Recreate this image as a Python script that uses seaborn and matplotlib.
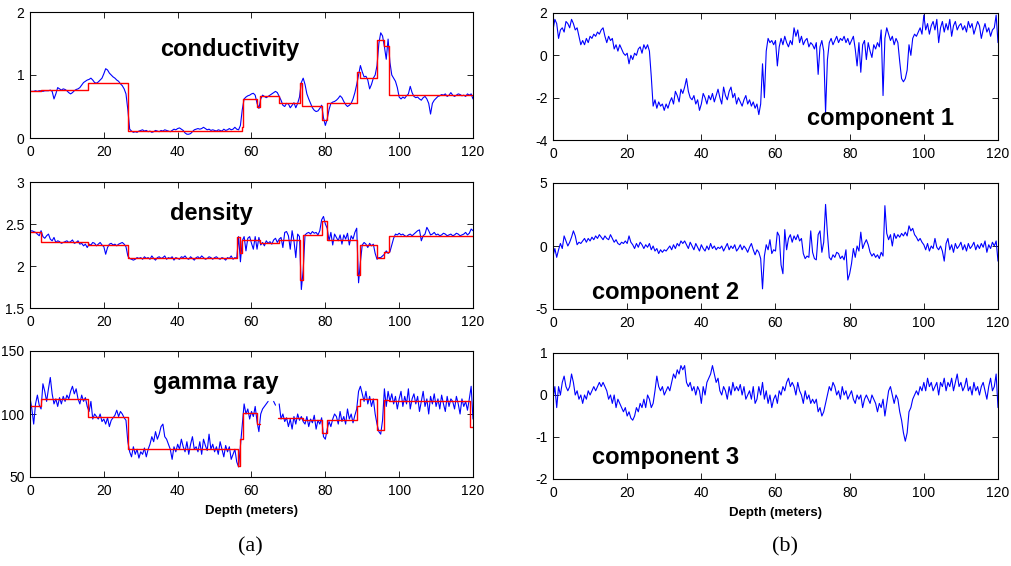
import numpy as np
import pandas as pd
import seaborn as sns
import matplotlib.pyplot as plt

depth = np.arange(0, 120.5, 0.5)

conductivity = [
    0.74, 0.74, 0.74, 0.75, 0.74, 0.75, 0.75, 0.74, 0.75, 0.75,
    0.75, 0.76, 0.74, 0.62, 0.70, 0.80, 0.78, 0.76, 0.78, 0.77,
    0.75, 0.72, 0.70, 0.72, 0.75, 0.77, 0.78, 0.80, 0.84, 0.88,
    0.90, 0.92, 0.93, 0.95, 0.92, 0.88, 0.87, 0.89, 0.92, 0.95,
    1.02, 1.10, 1.08, 1.03, 1.00, 0.97, 0.95, 0.92, 0.90, 0.86,
    0.83, 0.78, 0.70, 0.45, 0.14, 0.11, 0.09, 0.10, 0.09, 0.11,
    0.12, 0.13, 0.11, 0.12, 0.10, 0.11, 0.09, 0.10, 0.12, 0.11,
    0.10, 0.12, 0.11, 0.13, 0.12, 0.11, 0.10, 0.12, 0.14, 0.13,
    0.15, 0.16, 0.14, 0.12, 0.08, 0.06, 0.06, 0.07, 0.10, 0.13,
    0.14, 0.15, 0.14, 0.15, 0.17, 0.15, 0.13, 0.14, 0.12, 0.13,
    0.12, 0.11, 0.13, 0.12, 0.11, 0.14, 0.12, 0.13, 0.15, 0.13,
    0.14, 0.17, 0.14, 0.13, 0.20, 0.45, 0.62, 0.65, 0.67, 0.68,
    0.70, 0.71, 0.68, 0.55, 0.47, 0.62, 0.68, 0.66, 0.64, 0.66,
    0.68, 0.70, 0.72, 0.74, 0.72, 0.66, 0.60, 0.52, 0.50, 0.55,
    0.54, 0.48, 0.52, 0.56, 0.48, 0.55, 0.65, 0.88, 0.95, 0.85,
    0.70, 0.62, 0.55, 0.48, 0.44, 0.42, 0.43, 0.47, 0.52, 0.32,
    0.20, 0.30, 0.45, 0.55, 0.57, 0.58, 0.60, 0.63, 0.67, 0.64,
    0.58, 0.53, 0.50, 0.52, 0.55, 0.62, 0.72, 0.85, 1.00, 1.15,
    1.05, 0.97, 0.98, 0.92, 0.78, 0.85, 0.95, 1.00, 1.15, 1.50,
    1.67, 1.62, 1.45, 1.25, 1.57, 1.20, 1.00, 0.95, 0.90, 0.80,
    0.65, 0.62, 0.65, 0.63, 0.67, 0.70, 0.82, 0.72, 0.66, 0.64,
    0.65, 0.62, 0.60, 0.64, 0.66, 0.62, 0.55, 0.38, 0.55, 0.60,
    0.63, 0.66, 0.67, 0.69, 0.68, 0.70, 0.66, 0.68, 0.72, 0.68,
    0.66, 0.68, 0.70, 0.69, 0.67, 0.68, 0.66, 0.70, 0.68, 0.70,
    0.62,
]
cond_edges = [0, 3, 15.8, 26.6, 57.3, 57.8, 61.4, 62.3, 67.5, 73.1, 73.7,
              79.2, 80.5, 88.7, 89.4, 93.9, 95.8, 97.3, 120]
cond_levels = [0.74, 0.76, 0.88, 0.11, 0.18, 0.62, 0.50, 0.67, 0.55, 0.87,
               0.51, 0.29, 0.55, 1.04, 0.96, 1.56, 1.46, 0.68]

density = [
    2.41, 2.42, 2.41, 2.40, 2.38, 2.36, 2.42, 2.35, 2.33, 2.36,
    2.38, 2.32, 2.30, 2.34, 2.28, 2.30, 2.29, 2.27, 2.28, 2.29,
    2.30, 2.28, 2.29, 2.31, 2.27, 2.28, 2.30, 2.26, 2.27, 2.24,
    2.26, 2.22, 2.26, 2.25, 2.28, 2.27, 2.24, 2.26, 2.28, 2.25,
    2.23, 2.14, 2.22, 2.26, 2.27, 2.25, 2.26, 2.24, 2.26, 2.27,
    2.28, 2.26, 2.23, 2.12, 2.09, 2.08, 2.07, 2.08, 2.10, 2.09,
    2.10, 2.08, 2.11, 2.09, 2.10, 2.08, 2.12, 2.09, 2.07, 2.10,
    2.11, 2.09, 2.10, 2.12, 2.08, 2.10, 2.09, 2.11, 2.07, 2.10,
    2.09, 2.08, 2.11, 2.10, 2.12, 2.09, 2.08, 2.11, 2.09, 2.07,
    2.10, 2.11, 2.09, 2.12, 2.10, 2.08, 2.09, 2.11, 2.10, 2.08,
    2.10, 2.11, 2.09, 2.08, 2.10, 2.09, 2.07, 2.10, 2.09, 2.12,
    2.08, 2.10, 2.09, 2.35, 2.05, 2.30, 2.35, 2.18, 2.33, 2.35,
    2.27, 2.20, 2.35, 2.20, 2.34, 2.25, 2.28, 2.24, 2.30, 2.27,
    2.29, 2.26, 2.31, 2.33, 2.28, 2.32, 2.34, 2.22, 2.40, 2.41,
    2.36, 2.20, 2.42, 2.30, 2.10, 2.38, 2.35, 1.72, 1.95, 2.37,
    2.39, 2.40, 2.38, 2.41, 2.39, 2.40, 2.37, 2.42, 2.55, 2.59,
    2.50, 2.45, 2.30, 2.40, 2.25, 2.38, 2.34, 2.30, 2.37, 2.26,
    2.37, 2.32, 2.39, 2.25, 2.36, 2.32, 2.40, 2.45, 1.80, 2.05,
    2.25, 2.28, 2.26, 2.22, 2.27, 2.24, 2.26, 2.15, 2.08, 2.10,
    2.10, 2.12, 2.14, 2.18, 2.15, 2.17, 2.25, 2.33, 2.38, 2.37,
    2.39, 2.37, 2.38, 2.36, 2.35, 2.37, 2.38, 2.36, 2.38, 2.40,
    2.42, 2.43, 2.30, 2.36, 2.38, 2.46, 2.42, 2.37, 2.38, 2.40,
    2.37, 2.38, 2.36, 2.37, 2.39, 2.38, 2.36, 2.37, 2.38, 2.36,
    2.37, 2.39, 2.38, 2.36, 2.37, 2.38, 2.40, 2.37, 2.39, 2.44,
    2.42,
]
dens_edges = [0, 2.9, 15.8, 26.6, 56.1, 56.8, 57.5, 62.3, 67.5, 73.1, 73.9,
              79.2, 80.5, 88.7, 89.5, 94.0, 96.0, 97.3, 120]
dens_levels = [2.40, 2.29, 2.25, 2.10, 2.34, 2.15, 2.31, 2.27, 2.31, 1.83,
               2.37, 2.53, 2.31, 1.89, 2.25, 2.10, 2.17, 2.36]

nan = np.nan
gamma_ray = [
    113, 104, 92, 108, 115, 107, 104, 124, 118, 110,
    120, 129, 116, 108, 112, 106, 113, 108, 114, 110,
    115, 112, 118, 122, 116, 120, 112, 108, 115, 110,
    113, 106, 102, 110, 96, 100, 98, 96, 100, 94,
    96, 92, 97, 90, 95, 97, 99, 103, 98, 102,
    100, 97, 95, 78, 70, 66, 74, 68, 72, 65,
    70, 68, 73, 66, 72, 76, 82, 78, 86, 80,
    84, 90, 92, 82, 80, 76, 72, 64, 74, 70,
    76, 72, 80, 74, 70, 78, 68, 76, 82, 72,
    74, 70, 78, 68, 80, 75, 71, 84, 72, 76,
    70, 74, 68, 78, 72, 66, 75, 70, 74, 64,
    68, 72, 62, 58, 75, 92, 108, 100, 104, 96,
    102, 98, 106, 94, 86, 100, 104, 106, 108, 110,
    nan, nan, 110, 107, nan, 108, 96, 100, 94, 97,
    90, 96, 88, 98, 92, 100, 95, 98, 94, 92,
    98, 90, 96, 93, 99, 88, 95, 92, 97, 82,
    80, 88, 94, 90, 96, 100, 98, 92, 102, 94,
    98, 92, 104, 96, 100, 93, 99, 104, 118, 122,
    116, 110, 118, 108, 114, 106, 112, 100, 92, 86,
    84, 95, 120, 106, 118, 110, 116, 108, 114, 104,
    112, 118, 106, 114, 108, 120, 104, 112, 116, 108,
    114, 102, 110, 118, 106, 112, 100, 114, 108, 116,
    106, 112, 104, 115, 108, 102, 114, 106, 112, 110,
    104, 114, 108, 100, 112, 106, 110, 103, 112, 122,
    96,
]
gamma_edges = [0, 2.9, 15.8, 26.6, 56.4, 57.0, 57.7, 61.4, 62.3, 67.3, 74.0,
               79.2, 80.5, 88.7, 89.4, 93.9, 95.8, 97.3, 119.1, 120]
gamma_levels = [106, 112, 98, 72.5, 59, 80, 101, 92, nan, 97, 95.5, 85, 95,
                106.5, 112, 87, 111, 110, 90]

component_1 = [
    1.2, 1.7, 1.5, 0.8, 1.2, 1.3, 1.1, 1.6, 1.5, 1.3,
    1.7, 1.5, 1.2, 1.3, 0.9, 0.5, 0.7, 0.5, 0.8, 0.6,
    0.9, 0.8, 1.0, 0.9, 1.1, 1.0, 1.2, 1.3, 0.9, 0.6,
    0.9, 0.7, 0.8, 0.3, 0.5, 0.2, 0.5, 0.3, 0.1, 0.0,
    0.1, -0.4, 0.0, -0.2, 0.1, 0.0, 0.3, 0.4, 0.1, 0.5,
    0.3, 0.5, 0.2, -1.0, -2.4, -2.1, -2.5, -2.2, -2.4, -2.3,
    -2.6, -2.3, -2.5, -2.2, -2.0, -2.3, -1.7, -1.9, -2.2, -1.6,
    -1.8, -1.5, -1.1, -1.7, -2.0, -2.1, -1.9, -2.3, -2.1, -2.6,
    -2.3, -1.8, -2.0, -2.3, -1.9, -2.1, -1.8, -2.2, -1.9, -1.6,
    -2.0, -2.3, -1.5, -1.9, -2.1, -1.7, -1.5, -2.0, -1.8, -2.3,
    -2.0, -2.2, -2.4, -2.1, -1.9, -2.3, -2.1, -2.4, -2.2, -2.5,
    -2.3, -2.8, -2.3, -0.4, -2.0, 0.2, 0.8, 0.6, 0.7, 0.5,
    0.7, -0.5, 0.4, 0.8, 0.5, 0.9, 0.6, 0.4, 0.7, 0.5,
    1.3, 0.9, 1.2, 0.6, 0.9, 0.5, 0.7, 0.8, 0.4, 0.6,
    0.5, 0.3, 0.6, -0.9, 0.4, 0.7, 0.2, -2.7, -0.2, 0.6,
    0.8, 0.5, 0.7, 0.9, 0.6, 0.8, 0.7, 0.9, 0.6, 0.8,
    0.5, 0.7, 0.9, 0.3, -0.5, 0.6, -0.8, 0.5, 0.7, -0.2,
    0.6, 0.2, -0.1, 0.5, 0.3, 0.6, 0.4, 1.2, -1.9, 0.8,
    1.3, 1.0, 0.7, 0.9, 0.5, 0.8, 0.6, -0.3, -1.1, -1.25,
    -1.1, -0.7, 0.5, 0.0, 0.8, 1.0, 0.9, 1.1, 1.3, 1.0,
    1.9, 1.2, 1.5, 1.0, 1.4, 1.6, 1.2, 1.7, 0.6, 1.3,
    1.6, 1.1, 1.5, 1.2, 1.7, 0.9, 1.4, 1.6, 1.2, 1.4,
    1.5, 1.2, 1.4, 1.1, 1.6, 1.3, 1.5, 1.0, 1.3, 1.6,
    1.4, 0.8, 1.2, 1.5, 1.1, 1.3, 0.9, 1.2, 1.3, 1.9,
    0.6,
]

component_2 = [
    -0.8, -0.2, -0.9, -0.3, 0.2, -0.2, 0.8, 0.4, 0.0, 0.3,
    0.7, 1.2, 0.8, 0.1, 0.3, 0.2, 0.4, 0.6, 0.3, 0.6,
    0.4, 0.7, 0.5, 0.8, 0.6, 0.9, 0.7, 0.5, 0.8, 0.6,
    0.5, 0.9, 0.6, 0.3, 0.5, 0.2, 0.1, 0.3, 0.2, 0.4,
    0.2, 0.8, 0.3, 0.1, -0.2, 0.2, -0.1, 0.3, 0.1, -0.2,
    0.1, -0.1, 0.2, -0.3, 0.0, -0.4, -0.2, -0.6, -0.3, -0.5,
    -0.3, -0.4, -0.2, 0.0, -0.3, 0.1, -0.2, 0.2, 0.0, 0.4,
    0.2, 0.4, 0.1, -0.2, 0.3, 0.0, -0.3, 0.2, -0.1, -0.4,
    0.1, -0.2, -0.4, 0.0, -0.3, 0.2, -0.2, 0.0, -0.3, -0.1,
    -0.2, 0.0, -0.4, -0.1, 0.2, -0.3, 0.0, -0.2, 0.1, -0.4,
    -0.2, 0.1, -0.3, 0.0, -0.2, -0.5, -0.1, 0.2, -0.3, -0.7,
    -0.3, -0.5, -1.0, -3.4, -0.8, 0.1, -0.3, 0.5, -0.6, -0.3,
    -0.4, 1.1, 0.8, -1.5, -2.2, 1.3, -0.3, 0.6, 0.9, 0.3,
    0.8, 0.5, 0.9, 0.4, 0.6, -0.6, -1.0, -0.8, -0.9, 1.2,
    -0.5, -1.0, -1.1, 0.9, 1.2, -0.5, 0.3, 3.3, 1.0, -0.9,
    -1.1, -0.7, -0.9, -0.5, -0.6, -1.0, -0.8, -1.1, -0.3, -2.7,
    -2.2, -1.4, -0.2, -0.9, 0.0, -0.4, 1.1, -0.2, 0.2, 0.5,
    0.1, -0.5, -0.8, -0.6, -0.9, -0.7, -1.0, -0.5, -0.8, 3.2,
    1.0, 0.5, 0.9, 0.0, 1.0, 0.6, 0.9, 0.7, 1.0, 0.8,
    1.1, 0.8, 1.6, 1.2, 1.4, 0.9, 0.7, 0.4, 0.6, 0.3,
    0.1, -0.3, 0.2, -0.4, 0.0, -0.2, 0.6, -0.1, -0.3, 0.0,
    -0.4, -1.2, 0.2, 0.6, -0.3, 0.1, -0.5, 0.2, -0.2, 0.0,
    0.3, -0.3, 0.1, -0.4, 0.2, -0.2, 0.0, 0.3, -0.3, 0.1,
    -0.2, 0.2, -0.1, 0.4, -0.5, 0.1, -0.2, 0.3, 0.0, 0.4,
    -1.2,
]

component_3 = [
    -0.1, 0.2, -0.3, 0.2, 0.0, 0.3, 0.45, 0.2, 0.1, 0.2,
    0.5, 0.3, 0.0, 0.1, -0.1, 0.0, -0.2, 0.0, -0.1, 0.1,
    0.0, 0.1, 0.2, 0.1, 0.2, 0.3, 0.2, 0.3, 0.2, 0.1,
    -0.1, 0.0, -0.2, 0.0, -0.3, -0.1, -0.2, -0.3, -0.4, -0.3,
    -0.5, -0.4, -0.55, -0.6, -0.5, -0.3, -0.4, -0.2, -0.3, -0.1,
    -0.3, 0.0, -0.1, -0.3, -0.2, 0.1, 0.45, 0.2, 0.1, 0.2,
    0.0, 0.1, 0.2, 0.1, 0.3, 0.5, 0.4, 0.6, 0.5, 0.7,
    0.6, 0.7, 0.3, 0.2, 0.3, 0.1, 0.2, 0.0, 0.2, 0.1,
    -0.2, 0.2, 0.0, 0.3, 0.4, 0.5, 0.7, 0.5, 0.3, 0.4,
    0.1, 0.0, 0.2, 0.1, -0.1, 0.2, 0.0, 0.3, 0.1, 0.2,
    0.1, 0.25, 0.0, 0.2, -0.1, 0.0, 0.1, -0.1, 0.2, -0.2,
    -0.1, 0.2, 0.0, 0.3, -0.1, 0.1, -0.2, 0.0, -0.3, -0.1,
    0.0, -0.2, 0.1, 0.0, 0.2, 0.1, 0.3, 0.4, 0.2, 0.3,
    0.2, 0.0, 0.3, 0.1, 0.0, -0.2, 0.1, -0.1, 0.0, -0.2,
    -0.1, -0.2, -0.1, -0.4, -0.3, -0.5, -0.4, -0.2, 0.0, 0.2,
    0.1, 0.3, 0.2, 0.0, 0.1, -0.1, 0.2, 0.0, 0.1, -0.1,
    0.0, 0.1, -0.1, -0.2, 0.0, -0.1, 0.0, -0.3, -0.1, 0.0,
    -0.1, -0.2, 0.0, -0.1, -0.2, -0.4, -0.2, -0.3, -0.1, -0.5,
    -0.2, 0.1, 0.2, 0.0, -0.2, 0.0, -0.1, -0.4, -0.6, -0.9,
    -1.1, -0.9, -0.4, -0.3, -0.1, 0.0, 0.1, 0.0, 0.2, 0.1,
    0.3, 0.1, 0.4, 0.2, 0.3, 0.1, 0.2, 0.3, 0.0, 0.3,
    0.2, 0.4, 0.1, 0.3, 0.2, 0.4, 0.1, 0.3, 0.5, 0.2,
    0.3, 0.1, 0.2, 0.4, 0.1, 0.2, 0.0, 0.3, 0.1, 0.2,
    0.0, 0.2, 0.3, 0.1, -0.1, 0.2, 0.4, 0.1, 0.2, 0.5,
    -0.3,
]


def trace_frame(x, y):
    # NaN breaks the line into separate units
    df = pd.DataFrame({"x": x, "y": y})
    df["seg"] = df["y"].isna().cumsum()
    return df.dropna()


def stairs_frame(edges, levels):
    xs, ys = [], []
    for i, lev in enumerate(levels):
        xs += [edges[i], edges[i + 1]]
        ys += [lev, lev]
    return trace_frame(xs, ys)


sns.set_theme(style="ticks")
plt.rcParams["font.family"] = ["Liberation Sans", "DejaVu Sans"]
plt.rcParams["axes.unicode_minus"] = False
plt.rcParams["text.color"] = "black"
plt.rcParams["axes.labelcolor"] = "black"

fig = plt.figure(figsize=(10.12, 5.66), dpi=100)

W, H = 1012, 566


def add_ax(x0, x1, top, bottom):
    return fig.add_axes([x0 / W, 1 - bottom / H, (x1 - x0) / W, (bottom - top) / H])


panels = [
    # values, red edges, red levels, ylim, yticks, ytick labels, title, title pos, box
    (conductivity, cond_edges, cond_levels, (0, 2), [0, 1, 2], ["0", "1", "2"],
     "conductivity", (0.45, 0.70), (30, 473, 12, 138)),
    (density, dens_edges, dens_levels, (1.5, 3), [1.5, 2, 2.5, 3], ["1.5", "2", "2.5", "3"],
     "density", (0.41, 0.75), (30, 473, 182, 308)),
    (gamma_ray, gamma_edges, gamma_levels, (50, 150), [50, 100, 150], ["50", "100", "150"],
     "gamma ray", (0.42, 0.75), (30, 473, 351, 477)),
    (component_1, None, None, (-4, 2), [-4, -2, 0, 2], ["-4", "-2", "0", "2"],
     "component 1", (0.737, 0.17), (553, 998, 13, 140)),
    (component_2, None, None, (-5, 5), [-5, 0, 5], ["-5", "0", "5"],
     "component 2", (0.254, 0.13), (553, 998, 183, 309)),
    (component_3, None, None, (-2, 1), [-2, -1, 0, 1], ["-2", "-1", "0", "1"],
     "component 3", (0.254, 0.17), (553, 998, 353, 479)),
]

for i, (vals, edges, levels, ylim, yticks, ylabels, title, tpos, box) in enumerate(panels):
    ax = add_ax(*box)
    sns.lineplot(data=trace_frame(depth, vals), x="x", y="y", units="seg",
                 estimator=None, sort=False, color="blue", lw=0.8, ax=ax)
    if edges is not None:
        sns.lineplot(data=stairs_frame(edges, levels), x="x", y="y", units="seg",
                     estimator=None, sort=False, color="red", lw=1.0, ax=ax)
    ax.set_xlim(0, 120)
    ax.set_ylim(*ylim)
    ax.set_xticks([0, 20, 40, 60, 80, 100, 120])
    ax.set_yticks(yticks)
    ax.set_yticklabels(ylabels)
    ax.tick_params(direction="in", top=True, right=True, length=4, width=0.6,
                   labelsize=10, colors="black")
    ax.tick_params(axis="x", pad=5)
    ax.tick_params(axis="y", pad=4)
    for sp in ax.spines.values():
        sp.set_linewidth(0.8)
        sp.set_color("black")
    ax.set_ylabel("")
    if i in (2, 5):
        ax.set_xlabel("Depth (meters)", fontsize=9.5, fontweight="bold", labelpad=5)
    else:
        ax.set_xlabel("")
    ax.text(tpos[0], tpos[1], title, transform=ax.transAxes, ha="center", va="center",
            fontsize=17, fontweight="bold", color="black")

fig.text(250 / W, 1 - 547 / H, "(a)", ha="center", va="center", fontsize=16,
         family=["Liberation Serif", "DejaVu Serif"])
fig.text(785 / W, 1 - 547 / H, "(b)", ha="center", va="center", fontsize=16,
         family=["Liberation Serif", "DejaVu Serif"])

fig.savefig("out.png", dpi=100)
